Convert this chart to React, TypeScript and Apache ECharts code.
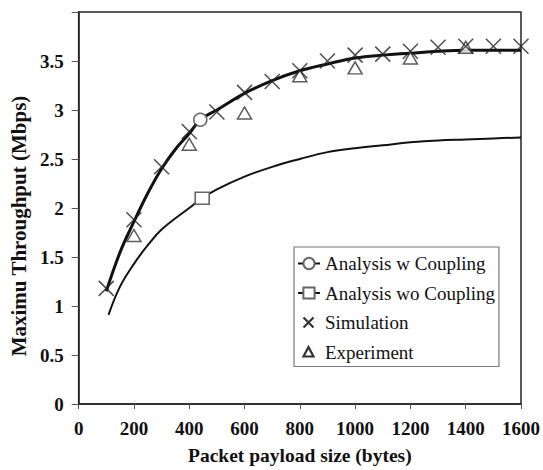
import React, { useEffect, useRef } from "react";
import * as echarts from "echarts";

// Analysis with coupling (thick curve)
const wCouplingX = [100, 150, 200, 250, 300, 350, 400, 440, 500, 600, 700, 800, 900, 1000, 1100, 1200, 1300, 1400, 1500, 1600];
const wCouplingY = [1.15, 1.55, 1.86, 2.15, 2.4, 2.6, 2.76, 2.9, 3.0, 3.17, 3.3, 3.4, 3.47, 3.53, 3.56, 3.58, 3.6, 3.61, 3.61, 3.61];
const wCouplingMarkerX = [440];

// Analysis without coupling (thin curve)
const woCouplingX = [108, 150, 200, 250, 300, 400, 447, 500, 600, 700, 800, 900, 1000, 1100, 1200, 1300, 1400, 1500, 1600];
const woCouplingY = [0.91, 1.2, 1.43, 1.62, 1.78, 2.0, 2.1, 2.19, 2.32, 2.42, 2.5, 2.57, 2.61, 2.64, 2.67, 2.69, 2.7, 2.71, 2.72];
const woCouplingMarkerX = [447];

// Simulation
const simX = [100, 200, 300, 400, 500, 600, 700, 800, 900, 1000, 1100, 1200, 1300, 1400, 1500, 1600];
const simY = [1.18, 1.88, 2.42, 2.78, 2.98, 3.18, 3.29, 3.4, 3.5, 3.56, 3.57, 3.6, 3.64, 3.65, 3.65, 3.65];

// Experiment
const expX = [200, 400, 600, 800, 1000, 1200, 1400];
const expY = [1.72, 2.65, 2.97, 3.35, 3.43, 3.53, 3.64];

const xTicks = [0, 200, 400, 600, 800, 1000, 1200, 1400, 1600];
const yTicks = [0, 0.5, 1, 1.5, 2, 2.5, 3, 3.5, 4];

const FONT = "'Liberation Serif', 'Times New Roman', serif";
const CROSS = "path://M0,0L10,10M10,0L0,10";

const svgIcon = (inner: string) =>
  "image://data:image/svg+xml;charset=utf-8," +
  encodeURIComponent(
    `<svg xmlns='http://www.w3.org/2000/svg' width='22' height='14' viewBox='0 0 22 14'>${inner}</svg>`
  );
const CROSS_ICON = svgIcon("<path d='M5.5,2L15.5,12M15.5,2L5.5,12' stroke='black' stroke-width='2.2' fill='none'/>");
const TRI_ICON = svgIcon("<path d='M10.5,2L15.5,11.5L5.5,11.5Z' stroke='black' stroke-width='2.2' fill='white' stroke-linejoin='miter'/>");

function curveData(xs: number[], ys: number[], markers: number[]) {
  return xs.map((x, i) =>
    markers.includes(x)
      ? { value: [x, ys[i]] }
      : { value: [x, ys[i]], symbol: "none" }
  );
}

export default function App() {
  const ref = useRef<HTMLDivElement>(null);
  useEffect(() => {
    if (!ref.current) return;
    const chart = echarts.init(ref.current, undefined, { renderer: "svg" });
    chart.setOption({
      animation: false,
      backgroundColor: "#fff",
      textStyle: { fontFamily: FONT },
      grid: {
        left: 76,
        right: 20,
        top: 12,
        bottom: 58,
        show: true,
        borderColor: "#2a2222",
        borderWidth: 1.5,
        containLabel: false,
      },
      legend: {
        left: 294,
        top: 247,
        orient: "vertical",
        align: "left",
        backgroundColor: "#fff",
        borderColor: "#777",
        borderWidth: 1.2,
        borderRadius: 0,
        padding: [7, 4, 5, 3],
        itemGap: 10.5,
        itemWidth: 22,
        itemHeight: 14,
        textStyle: { fontFamily: FONT, fontSize: 19, color: "#111" },
        data: [
          { name: "Analysis w Coupling" },
          { name: "Analysis wo Coupling" },
          { name: "Simulation", icon: CROSS_ICON },
          { name: "Experiment", icon: TRI_ICON },
        ],
      },
      xAxis: {
        type: "value",
        min: xTicks[0],
        max: xTicks[xTicks.length - 1],
        interval: 200,
        name: "Packet payload size (bytes)",
        nameLocation: "middle",
        nameGap: 41,
        nameTextStyle: { fontFamily: FONT, fontSize: 19.5, fontWeight: "bold", color: "#111" },
        axisLine: { lineStyle: { color: "#2a2222", width: 1.5 } },
        axisTick: { show: true, length: 5, lineStyle: { color: "#555" } },
        axisLabel: {
          fontFamily: FONT,
          fontSize: 19,
          fontWeight: "bold",
          color: "#111",
          margin: 15,
          formatter: (v: number) => String(v),
        },
        splitLine: { show: false },
      },
      yAxis: {
        type: "value",
        min: yTicks[0],
        max: yTicks[yTicks.length - 1],
        interval: 0.5,
        name: "Maximu Throughput (Mbps)",
        nameLocation: "middle",
        nameRotate: 90,
        nameGap: 48,
        nameTextStyle: {
          fontFamily: FONT,
          fontSize: 21,
          fontWeight: "bold",
          color: "#111",
          padding: [0, 36, 0, 0],
        },
        axisLine: { show: true, lineStyle: { color: "#2a2222", width: 1.5 } },
        axisTick: { show: true, length: 7, lineStyle: { color: "#555" } },
        axisLabel: {
          fontFamily: FONT,
          fontSize: 19,
          fontWeight: "bold",
          color: "#111",
          margin: 15,
          formatter: (v: number) => (v === 4 ? "" : String(v)),
        },
        splitLine: { show: false },
      },
      series: [
        {
          name: "Analysis wo Coupling",
          type: "line",
          smooth: 0.4,
          symbol: "rect",
          symbolSize: [14, 12],
          showSymbol: true,
          z: 2,
          lineStyle: { color: "#111", width: 2 },
          itemStyle: { color: "#fff", borderColor: "#666", borderWidth: 1.5 },
          data: curveData(woCouplingX, woCouplingY, woCouplingMarkerX),
        },
        {
          name: "Analysis w Coupling",
          type: "line",
          smooth: 0.4,
          symbol: "circle",
          symbolSize: 13,
          showSymbol: true,
          z: 3,
          lineStyle: { color: "#111", width: 3 },
          itemStyle: { color: "#fff", borderColor: "#666", borderWidth: 1.5 },
          data: curveData(wCouplingX, wCouplingY, wCouplingMarkerX),
        },
        {
          name: "Experiment",
          type: "scatter",
          symbol: "triangle",
          symbolSize: [14, 12],
          z: 4,
          itemStyle: { color: "#fff", borderColor: "#333", borderWidth: 1.5 },
          data: expX.map((x, i) => [x, expY[i]]),
        },
        {
          name: "Simulation",
          type: "scatter",
          symbol: CROSS,
          symbolSize: 15,
          z: 5,
          itemStyle: { color: "none", borderColor: "#222", borderWidth: 1.5 },
          data: simX.map((x, i) => [x, simY[i]]),
        },
      ],
    });
    return () => chart.dispose();
  }, []);
  return <div ref={ref} style={{ width: 543, height: 470, position: "absolute", left: 0, top: 0 }} />;
}
